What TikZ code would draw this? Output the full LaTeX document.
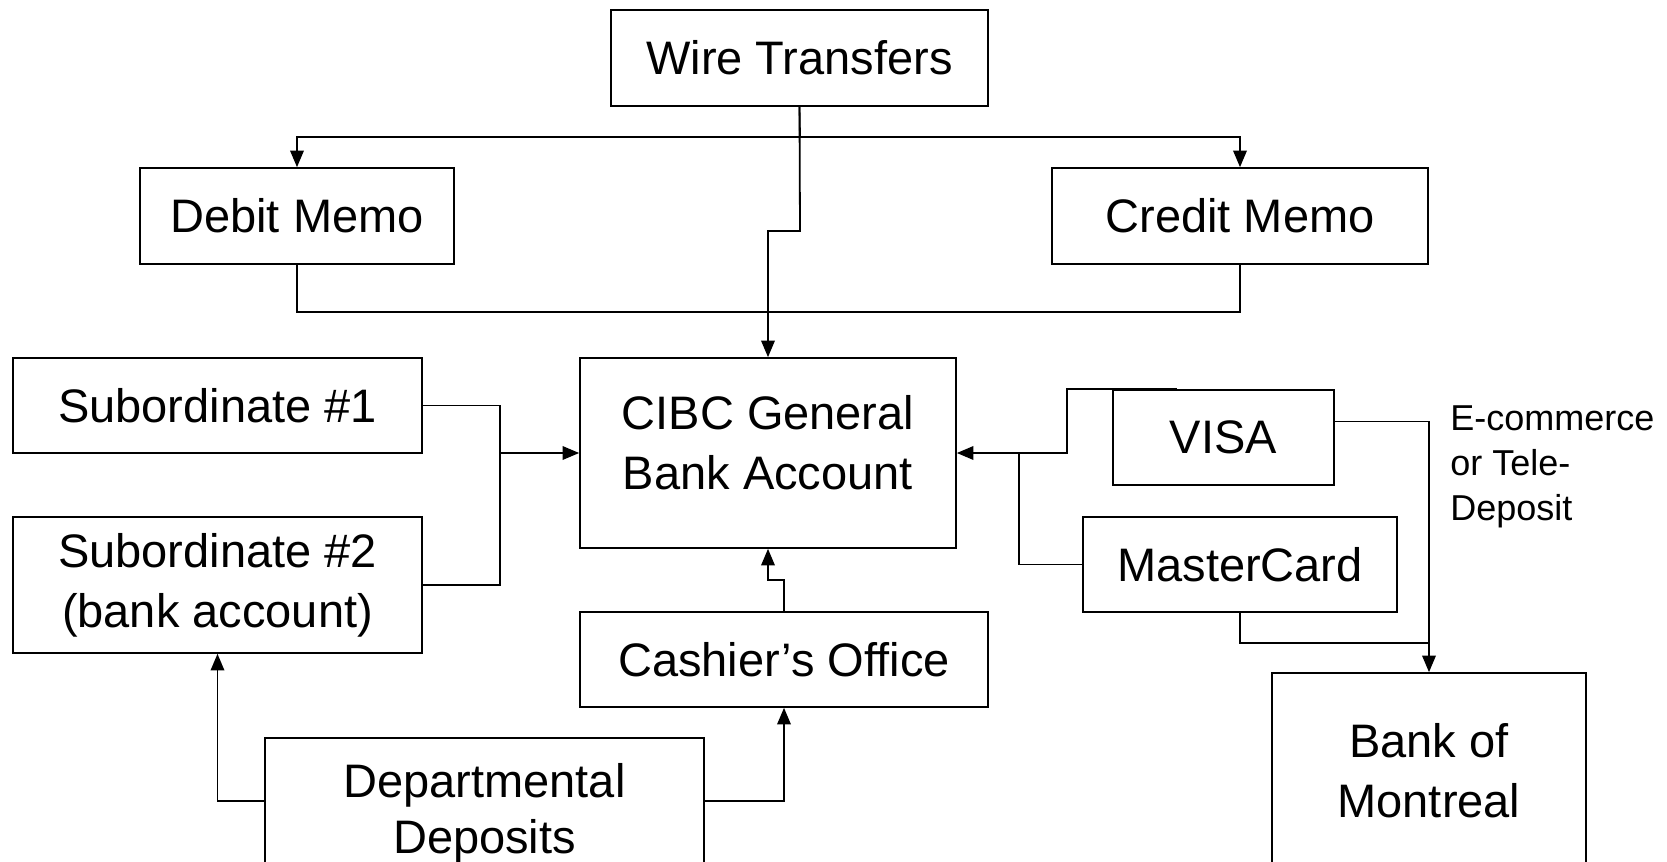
\documentclass[tikz,border=0pt]{standalone}
\usepackage{fontspec}
\setmainfont{Liberation Sans}
\usepackage{tikz}
\usetikzlibrary{arrows}

\tikzset{
  flowbox/.style={draw,line width=0.9pt,align=center,inner sep=0pt,
    font=\fontsize{23.5}{30}\selectfont},
  flowline/.style={line width=0.9pt}
}

\begin{document}
\begin{tikzpicture}[line cap=butt,line join=miter,>=triangle 45,x=0.5pt,y=-0.5pt]
\useasboundingbox (0,0) rectangle (1667,862);
% boxes
\node[flowbox,minimum width=188.5pt,minimum height=48pt] (wire) at (799.5,58) {Wire Transfers};
\node[flowbox,minimum width=157pt,minimum height=48pt] (debit) at (297,216) {Debit Memo};
\node[flowbox,minimum width=188pt,minimum height=48pt] (credit) at (1240,216) {Credit Memo};
\node[flowbox,minimum width=188pt,minimum height=95pt,text depth=11pt] (cibc) at (768,453) {CIBC General\\Bank Account};
\node[flowbox,minimum width=204.5pt,minimum height=47.5pt] (sub1) at (217.5,405.5) {Subordinate \#1};
\node[flowbox,minimum width=204.5pt,minimum height=68pt] (sub2) at (217.5,585) {Subordinate \#2\\(bank account)};
\node[flowbox,minimum width=204pt,minimum height=47.5pt] (cashier) at (784,659.5) {Cashier’s Office};
\node[flowbox,minimum width=219.5pt,minimum height=81pt,text depth=11pt,font=\fontsize{23.5}{28}\selectfont] (dept) at (484.5,819) {Departmental\\Deposits};
\node[flowbox,minimum width=110.5pt,minimum height=47.5pt] (visa) at (1223.5,437.5) {VISA};
\node[flowbox,minimum width=157pt,minimum height=47.5pt] (master) at (1240,564.5) {MasterCard};
\node[flowbox,minimum width=157pt,minimum height=98pt] (bom) at (1429,771) {Bank of\\Montreal};
\node[anchor=north west,inner sep=0pt,align=left,font=\fontsize{18}{22.5}\selectfont] (ecom) at (1450,405) {E-commerce\\or Tele-\\Deposit};
% junction points
\coordinate (bus) at (800,137);
\coordinate (jog) at (800,231);
\coordinate (lj) at (500,453);
\coordinate (cj) at (784,580);
\coordinate (rj) at (1019,453);
\coordinate (vj) at (1067,453);
\coordinate (mj) at (1429,643);
% connectors
\draw[flowline,->] (wire.south) -- (bus) -| (debit.north);
\draw[flowline,->] (bus) -| (credit.north);
\draw[flowline,->] (wire.south) -- (jog) -- (jog -| cibc.north) -- (cibc.north);
\draw[flowline] (debit.south) -- ++(0,47) -| (credit.south);
\draw[flowline] (sub1.east) -| (lj);
\draw[flowline] (sub2.east) -| (lj);
\draw[flowline,->] (lj) -- (cibc.west);
\draw[flowline,->] (cashier.north) -- (cj) -| (cibc.south);
\draw[flowline,->] ([yshift=9pt]dept.west) -| (sub2.south);
\draw[flowline,->] ([yshift=9pt]dept.east) -| (cashier.south);
\draw[flowline,->] (visa.north) ++(-47,0) -| (vj) -- (cibc.east);
\draw[flowline] (master.west) -| (rj);
\draw[flowline,->] ([yshift=8pt]visa.east) -| (bom.north);
\draw[flowline] (master.south) |- (mj);
\end{tikzpicture}
\end{document}
